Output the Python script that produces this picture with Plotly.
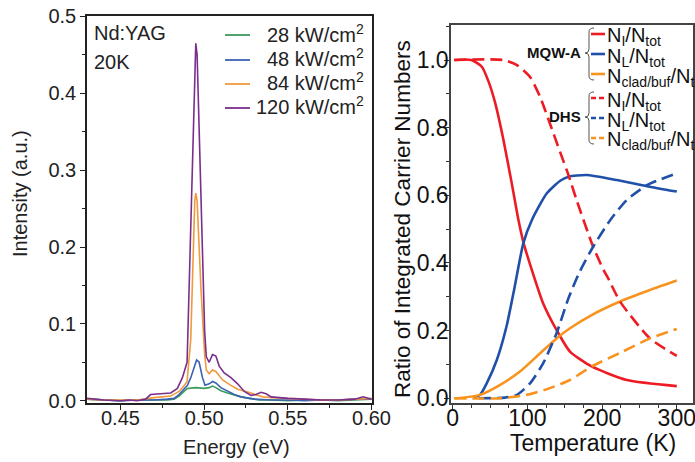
import plotly.graph_objects as go

# ---------------- data: left panel (PL spectra, Nd:YAG, 20K) ----------------
e_28 = [0.430, 0.440, 0.450, 0.460, 0.470, 0.478, 0.482, 0.485, 0.488, 0.490, 0.495, 0.500, 0.503, 0.505, 0.507, 0.510, 0.514, 0.518, 0.522, 0.527, 0.533, 0.540, 0.550, 0.560, 0.570, 0.580, 0.590, 0.600]
i_28 = [0.002, 0.001, 0.000, 0.001, 0.001, 0.001, 0.002, 0.006, 0.012, 0.016, 0.017, 0.016, 0.017, 0.019, 0.017, 0.013, 0.010, 0.007, 0.005, 0.003, 0.001, 0.001, 0.000, 0.001, 0.001, 0.000, 0.001, 0.002]

e_48 = [0.430, 0.440, 0.450, 0.460, 0.470, 0.478, 0.482, 0.485, 0.488, 0.490, 0.492, 0.494, 0.4955, 0.497, 0.499, 0.5005, 0.503, 0.505, 0.507, 0.510, 0.514, 0.518, 0.522, 0.527, 0.530, 0.540, 0.550, 0.560, 0.570, 0.580, 0.590, 0.600]
i_48 = [0.002, 0.001, 0.000, 0.001, 0.001, 0.002, 0.003, 0.008, 0.015, 0.020, 0.030, 0.045, 0.053, 0.050, 0.030, 0.020, 0.022, 0.025, 0.023, 0.017, 0.012, 0.008, 0.005, 0.003, 0.002, 0.001, 0.001, 0.000, 0.001, 0.001, 0.002, 0.002]

e_84 = [0.430, 0.440, 0.450, 0.460, 0.470, 0.475, 0.480, 0.485, 0.4875, 0.4898, 0.492, 0.4944, 0.495, 0.4958, 0.498, 0.5003, 0.5013, 0.503, 0.505, 0.507, 0.511, 0.516, 0.520, 0.525, 0.530, 0.535, 0.540, 0.550, 0.560, 0.570, 0.580, 0.590, 0.600]
i_84 = [0.002, 0.001, 0.001, 0.001, 0.004, 0.005, 0.006, 0.012, 0.018, 0.025, 0.080, 0.260, 0.270, 0.260, 0.150, 0.060, 0.040, 0.035, 0.040, 0.038, 0.027, 0.020, 0.015, 0.012, 0.008, 0.005, 0.004, 0.003, 0.002, 0.001, 0.001, 0.002, 0.003]

e_120 = [0.430, 0.435, 0.440, 0.450, 0.455, 0.460, 0.465, 0.468, 0.475, 0.480, 0.484, 0.487, 0.4898, 0.4944, 0.495, 0.4958, 0.5003, 0.5013, 0.503, 0.505, 0.507, 0.509, 0.512, 0.516, 0.520, 0.524, 0.528, 0.531, 0.534, 0.537, 0.540, 0.545, 0.550, 0.560, 0.570, 0.580, 0.590, 0.595, 0.600]
i_120 = [0.003, 0.002, 0.001, 0.000, 0.001, 0.000, 0.002, 0.008, 0.009, 0.010, 0.016, 0.030, 0.050, 0.450, 0.465, 0.450, 0.090, 0.057, 0.050, 0.060, 0.058, 0.045, 0.036, 0.030, 0.022, 0.012, 0.007, 0.008, 0.011, 0.009, 0.005, 0.004, 0.003, 0.002, 0.001, 0.001, 0.002, 0.005, 0.002]

spec_labels = ["28 kW/cm<sup>2</sup>", "48 kW/cm<sup>2</sup>", "84 kW/cm<sup>2</sup>", "120 kW/cm<sup>2</sup>"]
spec_colors = ["#3a9a5a", "#3b63b0", "#ef9a3c", "#7a2f8c"]

# ---------------- data: right panel (carrier ratios vs temperature) ----------------
t_mqw_i = [2, 25, 39, 48, 57, 68, 79, 88, 95, 106, 121, 139, 157, 186, 233, 300]
r_mqw_i = [1.0, 1.0, 0.98, 0.936, 0.872, 0.763, 0.636, 0.527, 0.458, 0.379, 0.281, 0.202, 0.138, 0.094, 0.054, 0.036]

t_mqw_l = [28, 36.5, 45.5, 59, 72, 83, 94.5, 106, 126, 144, 155, 179, 220, 260, 300]
r_mqw_l = [0.002, 0.01, 0.044, 0.113, 0.212, 0.33, 0.458, 0.527, 0.606, 0.643, 0.655, 0.66, 0.645, 0.627, 0.611]

t_mqw_c = [2, 10, 36.5, 63, 90, 117, 139, 157, 186, 224, 264, 300]
r_mqw_c = [0.0, 0.001, 0.01, 0.039, 0.079, 0.133, 0.177, 0.207, 0.246, 0.286, 0.32, 0.348]

t_dhs_i = [2, 68, 86, 103.5, 117, 130, 143.6, 155, 166, 188, 202, 208, 224, 264, 300]
r_dhs_i = [1.0, 1.0, 0.985, 0.95, 0.891, 0.813, 0.729, 0.66, 0.585, 0.448, 0.379, 0.355, 0.286, 0.177, 0.125]

t_dhs_l = [35, 70, 86, 103.5, 121, 139, 155, 170, 188, 211, 233, 260, 300]
r_dhs_l = [0.0, 0.002, 0.01, 0.044, 0.103, 0.192, 0.296, 0.374, 0.448, 0.527, 0.586, 0.63, 0.665]

t_dhs_c = [2, 63, 99, 130, 157, 186, 224, 264, 300]
r_dhs_c = [0.0, 0.0, 0.01, 0.03, 0.054, 0.094, 0.134, 0.177, 0.205]

RED, BLUE, ORANGE = "#ed1c24", "#2050a8", "#f7931e"
ratio_labels = ["N<sub>I</sub>/N<sub>tot</sub>", "N<sub>L</sub>/N<sub>tot</sub>", "N<sub>clad/buf</sub>/N<sub>tot</sub>"]

# ---------------- layout geometry ----------------
W, H = 695, 462
ML, MR, MT, MB = 87, 2, 16, 59
PW, PH = W - ML - MR, H - MT - MB


def px(x):
    return (x - ML) / PW


def py(y):
    return (H - MB - y) / PH


FONT = "Arial, Liberation Sans, sans-serif"
fig = go.Figure()

spectra = [(e_28, i_28), (e_48, i_48), (e_84, i_84), (e_120, i_120)]
for (ex, iy), col in zip(spectra, spec_colors):
    fig.add_trace(go.Scatter(x=ex, y=iy, mode="lines", line=dict(color=col, width=1.6),
                             xaxis="x", yaxis="y", showlegend=False, hoverinfo="skip"))

ratio_series = [
    (t_mqw_i, r_mqw_i, RED, "solid"), (t_mqw_l, r_mqw_l, BLUE, "solid"), (t_mqw_c, r_mqw_c, ORANGE, "solid"),
    (t_dhs_i, r_dhs_i, RED, "dash"), (t_dhs_l, r_dhs_l, BLUE, "dash"), (t_dhs_c, r_dhs_c, ORANGE, "dash"),
]
for tx, ry, col, dash in ratio_series:
    fig.add_trace(go.Scatter(x=tx, y=ry, mode="lines",
                             line=dict(color=col, width=2.6, shape="spline", smoothing=0.6,
                                       dash="12px,6px" if dash == "dash" else "solid"),
                             xaxis="x2", yaxis="y2", showlegend=False, hoverinfo="skip"))

left_axis = dict(showline=True, mirror=True, linecolor="#222", linewidth=1.5, showgrid=False,
                 zeroline=False, ticks="outside", ticklen=5, tickwidth=1, tickcolor="#222",
                 automargin=False, tickfont=dict(family=FONT, size=20, color="#222"))
right_axis = dict(showline=True, mirror=True, linecolor="#444", linewidth=1.5, showgrid=False,
                  zeroline=False, ticks="outside", ticklen=5, tickwidth=1, tickcolor="#333",
                  automargin=False, tickfont=dict(family=FONT, size=23, color="#111"))

fig.update_layout(
    width=W, height=H, margin=dict(l=ML, r=MR, t=MT, b=MB, autoexpand=False),
    paper_bgcolor="white", plot_bgcolor="white",
    xaxis=dict(domain=[0, px(372)], range=[0.43, 0.6003], dtick=0.05, tick0=0.45, tickformat=".2f",
               minor=dict(dtick=0.025, tick0=0.425, ticks="outside", ticklen=3, tickcolor="#222"),
               ticklabelstandoff=-9, ticklabeloverflow="allow", anchor="y", **left_axis),
    yaxis=dict(domain=[0, 1], range=[-0.003, 0.5006], dtick=0.1, tickformat=".1f",
               minor=dict(dtick=0.05, ticks="outside", ticklen=3, tickcolor="#222"),
               anchor="x", **left_axis),
    xaxis2=dict(domain=[px(451), 1], range=[-2.3, 321.7], dtick=100,
                minor=dict(dtick=25, ticks="outside", ticklen=3, tickcolor="#333"),
                ticklabelstandoff=-11, ticklabeloverflow="allow", anchor="y2", **right_axis),
    yaxis2=dict(domain=[0, py(25)], range=[-0.014, 1.1035], dtick=0.2, tickformat=".1f",
                minor=dict(dtick=0.1, ticks="outside", ticklen=3, tickcolor="#333"),
                ticklabelstandoff=-9, anchor="x2", **right_axis),
)

ann = []
# axis titles
ann.append(dict(text="Intensity (a.u.)", x=px(20), y=py(194), textangle=-90,
                font=dict(family=FONT, size=20, color="#222")))
ann.append(dict(text="Energy (eV)", x=px(236), y=py(447), font=dict(family=FONT, size=20, color="#222")))
ann.append(dict(text="Ratio of Integrated Carrier Numbers", x=px(402), y=py(219), textangle=-90,
                font=dict(family=FONT, size=22.5, color="#111")))
ann.append(dict(text="Temperature (K)", x=px(593), y=py(443), font=dict(family=FONT, size=23, color="#111")))
# left panel labels
ann.append(dict(text="Nd:YAG", x=px(92), y=py(33), xanchor="left", font=dict(family=FONT, size=20, color="#222")))
ann.append(dict(text="20K", x=px(92), y=py(62), xanchor="left", font=dict(family=FONT, size=20, color="#222")))

shapes = []
leg_text_y = [33, 58, 82, 106]
leg_line_y = [35, 60, 84, 108]
for lab, col, ty, ly in zip(spec_labels, spec_colors, leg_text_y, leg_line_y):
    ann.append(dict(text=lab, x=px(366), y=py(ty), xanchor="right",
                    font=dict(family=FONT, size=20, color="#222")))
    shapes.append(dict(type="line", xref="paper", yref="paper", x0=px(225), x1=px(250),
                       y0=py(ly), y1=py(ly), line=dict(color=col, width=1.8)))

# right panel grouped legend
group_rows = [[34, 54, 74], [98, 118, 138]]
group_names = ["MQW-A", "DHS"]
group_dash = ["solid", "dash"]
group_mid = [53, 117]
group_span = [(28, 80), (92, 144)]
group_name_y = [52, 117]
cols = [RED, BLUE, ORANGE]
for rows, name, dash, mid, (ytop, ybot), ny in zip(group_rows, group_names, group_dash, group_mid,
                                                   group_span, group_name_y):
    ann.append(dict(text="<b>" + name + "</b>", x=px(583), y=py(ny), xanchor="right",
                    font=dict(family=FONT, size=15, color="#111")))
    xb, xh, xt = 589, 594, 585
    path = (f"M {px(xh)},{py(ytop)} Q {px(xb)},{py(ytop)} {px(xb)},{py(ytop + 4)} "
            f"L {px(xb)},{py(mid - 4)} Q {px(xb)},{py(mid)} {px(xt)},{py(mid)} "
            f"Q {px(xb)},{py(mid)} {px(xb)},{py(mid + 4)} "
            f"L {px(xb)},{py(ybot - 4)} Q {px(xb)},{py(ybot)} {px(xh)},{py(ybot)}")
    shapes.append(dict(type="path", xref="paper", yref="paper", path=path,
                       line=dict(color="#555", width=1)))
    for lab, col, ry in zip(ratio_labels, cols, rows):
        if dash == "solid":
            shapes.append(dict(type="line", xref="paper", yref="paper", x0=px(591), x1=px(605),
                               y0=py(ry), y1=py(ry), line=dict(color=col, width=2.6)))
        else:
            shapes.append(dict(type="line", xref="paper", yref="paper", x0=px(591), x1=px(605),
                               y0=py(ry), y1=py(ry), line=dict(color=col, width=2.6, dash="5px,3px")))
        ann.append(dict(text=lab, x=px(605), y=py(ry + 3), xanchor="left",
                        font=dict(family=FONT, size=20, color="#111")))

for a in ann:
    a.setdefault("xref", "paper")
    a.setdefault("yref", "paper")
    a.setdefault("xanchor", "center")
    a.setdefault("yanchor", "middle")
    a.setdefault("showarrow", False)
fig.update_layout(annotations=ann, shapes=shapes)

post = ("document.documentElement.style.margin='0';document.documentElement.style.overflow='hidden';"
        "document.body.style.margin='0';document.body.style.padding='0';document.body.style.overflow='hidden';"
        "var gd=document.getElementById('{plot_id}');gd.style.overflow='hidden';"
        "gd.querySelectorAll('svg').forEach(function(s){s.style.overflow='hidden';});")

fig.write_html("out.html", config={"displayModeBar": False}, post_script=post)
